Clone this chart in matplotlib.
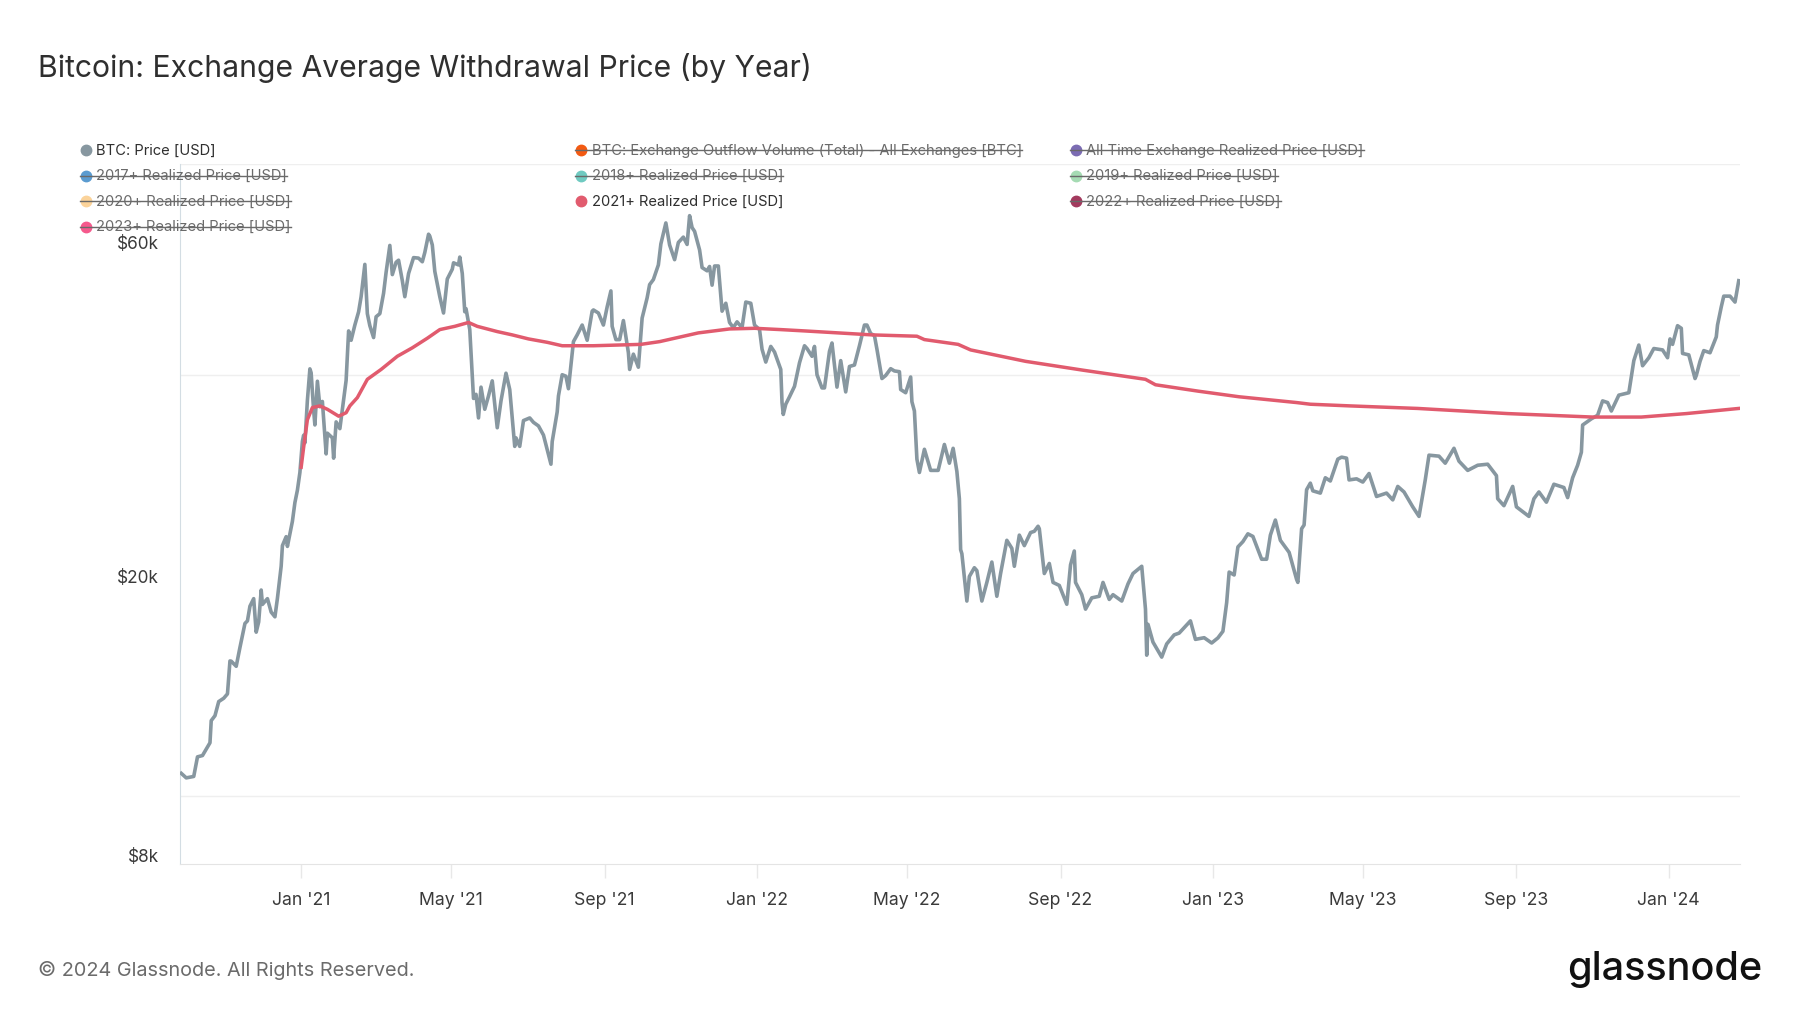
import matplotlib
matplotlib.use("Agg")
import matplotlib.pyplot as plt
import matplotlib.dates as mdates
import matplotlib.ticker as mticker
import matplotlib.transforms as mtransforms
from matplotlib.lines import Line2D
import pandas as pd

plt.rcParams['font.family'] = ['Inter', 'DejaVu Sans']

title = "Bitcoin: Exchange Average Withdrawal Price (by Year)"
footer = "\u00a9 2024 Glassnode. All Rights Reserved."

# BTC daily close (date, USD)
btc_price = [
    ("2020-09-27", 10780), ("2020-10-01", 10620), ("2020-10-07", 10670), ("2020-10-10", 11380),
    ("2020-10-14", 11430), ("2020-10-20", 11920), ("2020-10-21", 12820), ("2020-10-24", 13030),
    ("2020-10-27", 13650), ("2020-10-31", 13800),
    ("2020-11-03", 14000), ("2020-11-05", 15600), ("2020-11-06", 15590), ("2020-11-10", 15330),
    ("2020-11-13", 16310), ("2020-11-17", 17650), ("2020-11-19", 17800), ("2020-11-21", 18680),
    ("2020-11-24", 19150), ("2020-11-26", 17150), ("2020-11-28", 17740), ("2020-11-30", 19700),
    ("2020-12-01", 18790), ("2020-12-05", 19150), ("2020-12-08", 18320), ("2020-12-11", 18040),
    ("2020-12-13", 19170), ("2020-12-16", 21310), ("2020-12-17", 22800), ("2020-12-20", 23480),
    ("2020-12-21", 22740), ("2020-12-25", 24700), ("2020-12-27", 26270), ("2020-12-29", 27360),
    ("2020-12-31", 29000),
    ("2021-01-02", 32130), ("2021-01-03", 32780), ("2021-01-04", 31970), ("2021-01-06", 36770),
    ("2021-01-08", 40780), ("2021-01-09", 40250), ("2021-01-11", 35570), ("2021-01-12", 33910),
    ("2021-01-14", 39150), ("2021-01-16", 36000), ("2021-01-18", 36630), ("2021-01-21", 30830),
    ("2021-01-22", 33000), ("2021-01-26", 32500), ("2021-01-27", 30400), ("2021-01-29", 34250),
    ("2021-02-01", 33500), ("2021-02-04", 36900), ("2021-02-06", 39260), ("2021-02-08", 46200),
    ("2021-02-10", 44800), ("2021-02-13", 47100), ("2021-02-16", 49200), ("2021-02-18", 51700),
    ("2021-02-21", 57500), ("2021-02-23", 48900), ("2021-02-25", 47000), ("2021-02-28", 45200),
    ("2021-03-02", 48400), ("2021-03-05", 48900), ("2021-03-08", 52300), ("2021-03-10", 56000),
    ("2021-03-13", 61200), ("2021-03-15", 55600), ("2021-03-18", 57900), ("2021-03-20", 58300),
    ("2021-03-23", 54500), ("2021-03-25", 51700), ("2021-03-28", 55800),
    ("2021-04-01", 58800), ("2021-04-05", 58700), ("2021-04-08", 58000), ("2021-04-10", 59800),
    ("2021-04-13", 63500), ("2021-04-14", 63100), ("2021-04-16", 61300), ("2021-04-18", 56200),
    ("2021-04-22", 51700), ("2021-04-25", 49000), ("2021-04-28", 54800),
    ("2021-05-02", 56600), ("2021-05-03", 57800), ("2021-05-07", 57400), ("2021-05-08", 58900),
    ("2021-05-10", 55800), ("2021-05-12", 49200), ("2021-05-13", 49700), ("2021-05-16", 46400),
    ("2021-05-19", 37000), ("2021-05-21", 37500), ("2021-05-23", 34700), ("2021-05-25", 38400),
    ("2021-05-28", 35700), ("2021-05-31", 37300),
    ("2021-06-03", 39200), ("2021-06-07", 33600), ("2021-06-10", 36700), ("2021-06-14", 40200),
    ("2021-06-17", 38100), ("2021-06-21", 31600), ("2021-06-22", 32500), ("2021-06-25", 31600),
    ("2021-06-28", 34400),
    ("2021-07-03", 34700), ("2021-07-06", 34200), ("2021-07-10", 33800), ("2021-07-14", 32800),
    ("2021-07-20", 29800), ("2021-07-21", 32100), ("2021-07-25", 35400), ("2021-07-26", 37300),
    ("2021-07-29", 40000),
    ("2021-08-01", 39800), ("2021-08-03", 38200), ("2021-08-07", 44600), ("2021-08-10", 45600),
    ("2021-08-14", 47100), ("2021-08-18", 44800), ("2021-08-22", 49300), ("2021-08-23", 49500),
    ("2021-08-27", 49000), ("2021-08-31", 47100),
    ("2021-09-03", 50000), ("2021-09-06", 52700), ("2021-09-07", 46900), ("2021-09-10", 44900),
    ("2021-09-13", 44900), ("2021-09-16", 47800), ("2021-09-20", 43000), ("2021-09-21", 40700),
    ("2021-09-24", 42800), ("2021-09-28", 41000),
    ("2021-10-01", 48200), ("2021-10-05", 51500), ("2021-10-07", 53800), ("2021-10-10", 54700),
    ("2021-10-14", 57400), ("2021-10-16", 61500), ("2021-10-20", 65900), ("2021-10-23", 61300),
    ("2021-10-27", 58400), ("2021-10-30", 61800),
    ("2021-11-03", 62900), ("2021-11-06", 61400), ("2021-11-08", 67500), ("2021-11-10", 64900),
    ("2021-11-12", 64100), ("2021-11-16", 60300), ("2021-11-18", 56900), ("2021-11-22", 56300),
    ("2021-11-24", 57100), ("2021-11-26", 53700), ("2021-11-28", 57200),
    ("2021-12-01", 57200), ("2021-12-04", 49300), ("2021-12-07", 50600), ("2021-12-10", 47500),
    ("2021-12-13", 46700), ("2021-12-16", 47600), ("2021-12-20", 46700), ("2021-12-23", 50800),
    ("2021-12-27", 50600), ("2021-12-30", 47100),
    ("2022-01-03", 46400), ("2022-01-05", 43500), ("2022-01-08", 41700), ("2022-01-12", 43900),
    ("2022-01-15", 43100), ("2022-01-20", 40700), ("2022-01-21", 36500), ("2022-01-22", 35100),
    ("2022-01-24", 36300), ("2022-01-27", 37200), ("2022-01-31", 38500),
    ("2022-02-04", 41600), ("2022-02-08", 44000), ("2022-02-10", 43600), ("2022-02-14", 42500),
    ("2022-02-16", 43900), ("2022-02-18", 40000), ("2022-02-22", 38300), ("2022-02-24", 38300),
    ("2022-02-28", 43200),
    ("2022-03-02", 44400), ("2022-03-06", 38400), ("2022-03-09", 41900), ("2022-03-13", 37800),
    ("2022-03-16", 41100), ("2022-03-20", 41300), ("2022-03-24", 44000), ("2022-03-28", 47100),
    ("2022-03-30", 47100),
    ("2022-04-02", 45800), ("2022-04-05", 45500), ("2022-04-07", 43500), ("2022-04-11", 39500),
    ("2022-04-14", 39900), ("2022-04-18", 40800), ("2022-04-21", 40500), ("2022-04-25", 40400),
    ("2022-04-26", 38100), ("2022-04-30", 37700),
    ("2022-05-04", 39700), ("2022-05-05", 36600), ("2022-05-07", 35500), ("2022-05-09", 30300),
    ("2022-05-11", 29000), ("2022-05-15", 31300), ("2022-05-20", 29200), ("2022-05-26", 29200),
    ("2022-05-31", 31800),
    ("2022-06-04", 29900), ("2022-06-07", 31400), ("2022-06-10", 29100), ("2022-06-12", 26600),
    ("2022-06-13", 22500), ("2022-06-14", 22200), ("2022-06-18", 19000), ("2022-06-20", 20600),
    ("2022-06-24", 21200), ("2022-06-26", 21000), ("2022-06-30", 19000),
    ("2022-07-04", 20200), ("2022-07-08", 21600), ("2022-07-12", 19300), ("2022-07-15", 20800),
    ("2022-07-20", 23200), ("2022-07-24", 22600), ("2022-07-26", 21300), ("2022-07-30", 23600),
    ("2022-08-03", 22800), ("2022-08-08", 23800), ("2022-08-11", 23900), ("2022-08-14", 24300),
    ("2022-08-15", 24100), ("2022-08-19", 20800), ("2022-08-23", 21500), ("2022-08-26", 20200),
    ("2022-08-31", 20000),
    ("2022-09-06", 18800), ("2022-09-09", 21400), ("2022-09-12", 22400), ("2022-09-13", 20200),
    ("2022-09-18", 19400), ("2022-09-21", 18500), ("2022-09-26", 19200),
    ("2022-10-02", 19300), ("2022-10-05", 20200), ("2022-10-10", 19100), ("2022-10-13", 19400),
    ("2022-10-20", 19000), ("2022-10-25", 20100), ("2022-10-29", 20800),
    ("2022-11-05", 21300), ("2022-11-08", 18500), ("2022-11-09", 15900), ("2022-11-10", 17600),
    ("2022-11-14", 16600), ("2022-11-21", 15800), ("2022-11-25", 16500),
    ("2022-12-01", 17000), ("2022-12-05", 17100), ("2022-12-14", 17800), ("2022-12-18", 16750),
    ("2022-12-25", 16840), ("2022-12-31", 16550),
    ("2023-01-05", 16830), ("2023-01-09", 17200), ("2023-01-12", 18900), ("2023-01-14", 20900),
    ("2023-01-18", 20700), ("2023-01-21", 22700), ("2023-01-25", 23100), ("2023-01-29", 23700),
    ("2023-02-02", 23500), ("2023-02-09", 21800), ("2023-02-13", 21800), ("2023-02-16", 23600),
    ("2023-02-20", 24800), ("2023-02-24", 23200),
    ("2023-03-03", 22300), ("2023-03-09", 20400), ("2023-03-10", 20200), ("2023-03-13", 24100),
    ("2023-03-15", 24400), ("2023-03-17", 27400), ("2023-03-20", 28000), ("2023-03-22", 27300),
    ("2023-03-28", 27100),
    ("2023-04-01", 28500), ("2023-04-05", 28200), ("2023-04-11", 30300), ("2023-04-14", 30500),
    ("2023-04-18", 30400), ("2023-04-20", 28300), ("2023-04-26", 28400),
    ("2023-05-01", 28100), ("2023-05-06", 28900), ("2023-05-12", 26800), ("2023-05-20", 27100),
    ("2023-05-25", 26500), ("2023-05-29", 27700),
    ("2023-06-03", 27200), ("2023-06-10", 25900), ("2023-06-15", 25100), ("2023-06-20", 28300),
    ("2023-06-23", 30700),
    ("2023-07-01", 30600), ("2023-07-06", 29900), ("2023-07-13", 31400), ("2023-07-17", 30100),
    ("2023-07-24", 29200),
    ("2023-08-01", 29700), ("2023-08-09", 29800), ("2023-08-16", 28700), ("2023-08-17", 26600),
    ("2023-08-22", 26000), ("2023-08-29", 27700),
    ("2023-09-01", 25900), ("2023-09-11", 25100), ("2023-09-15", 26600), ("2023-09-19", 27200),
    ("2023-09-25", 26300),
    ("2023-10-01", 27900), ("2023-10-09", 27600), ("2023-10-12", 26700), ("2023-10-16", 28500),
    ("2023-10-20", 29700), ("2023-10-23", 31000), ("2023-10-24", 33900), ("2023-10-31", 34600),
    ("2023-11-05", 35000), ("2023-11-09", 36700), ("2023-11-13", 36500), ("2023-11-16", 35500),
    ("2023-11-22", 37400), ("2023-11-30", 37700),
    ("2023-12-04", 41900), ("2023-12-08", 44100), ("2023-12-11", 41200), ("2023-12-16", 42300),
    ("2023-12-20", 43600), ("2023-12-27", 43400), ("2023-12-31", 42300),
    ("2024-01-02", 45000), ("2024-01-04", 44200), ("2024-01-08", 47000), ("2024-01-11", 46600),
    ("2024-01-12", 42900), ("2024-01-17", 42700), ("2024-01-22", 39500), ("2024-01-23", 39900),
    ("2024-01-26", 41800), ("2024-01-29", 43300),
    ("2024-02-03", 43000), ("2024-02-08", 45300), ("2024-02-09", 47100), ("2024-02-12", 50000),
    ("2024-02-14", 51800), ("2024-02-19", 51800), ("2024-02-23", 50800), ("2024-02-26", 54500),
]

# 2021+ realized price (date, USD)
rp_2021 = [
    ("2021-01-01", 29500), ("2021-01-03", 31500), ("2021-01-06", 34500), ("2021-01-10", 35900),
    ("2021-01-16", 36100), ("2021-01-22", 35700), ("2021-01-31", 34900), ("2021-02-06", 35300),
    ("2021-02-09", 36100), ("2021-02-15", 37100), ("2021-02-23", 39400), ("2021-03-06", 40700),
    ("2021-03-19", 42500), ("2021-03-31", 43700), ("2021-04-12", 45100), ("2021-04-22", 46400),
    ("2021-05-04", 46900), ("2021-05-15", 47500), ("2021-05-22", 46900), ("2021-06-07", 46100),
    ("2021-06-19", 45600), ("2021-07-02", 45000), ("2021-07-17", 44500), ("2021-07-29", 44000),
    ("2021-08-23", 44000), ("2021-09-30", 44200), ("2021-10-15", 44600), ("2021-11-15", 45900),
    ("2021-12-10", 46500), ("2021-12-30", 46600), ("2022-01-20", 46400), ("2022-02-08", 46200),
    ("2022-04-03", 45600), ("2022-05-09", 45400), ("2022-05-15", 44900), ("2022-06-11", 44200),
    ("2022-06-21", 43400), ("2022-08-04", 41800), ("2022-09-19", 40600), ("2022-11-08", 39400),
    ("2022-11-16", 38700), ("2022-12-20", 37900), ("2023-01-22", 37200), ("2023-03-09", 36500),
    ("2023-03-20", 36300), ("2023-04-21", 36100), ("2023-06-14", 35800), ("2023-08-25", 35200),
    ("2023-11-01", 34800), ("2023-12-10", 34800), ("2024-01-15", 35200), ("2024-02-26", 35800),
]

legend_items = [
    ("BTC: Price [USD]", "#8797a0", True),
    ("BTC: Exchange Outflow Volume (Total) - All Exchanges [BTC]", "#f35a12", False),
    ("All Time Exchange Realized Price [USD]", "#7b6cb3", False),
    ("2017+ Realized Price [USD]", "#5a9bd0", False),
    ("2018+ Realized Price [USD]", "#6fcac1", False),
    ("2019+ Realized Price [USD]", "#a5dbb3", False),
    ("2020+ Realized Price [USD]", "#fbd39a", False),
    ("2021+ Realized Price [USD]", "#e15b6e", True),
    ("2022+ Realized Price [USD]", "#a33a5e", False),
    ("2023+ Realized Price [USD]", "#f5598c", False),
]

y_labels = {8000: "$8k", 20000: "$20k", 60000: "$60k"}
grid_levels = [10000, 20000, 40000, 60000, 80000]

btc = pd.DataFrame(btc_price, columns=["date", "price"])
btc["date"] = pd.to_datetime(btc["date"])
rp = pd.DataFrame(rp_2021, columns=["date", "price"])
rp["date"] = pd.to_datetime(rp["date"])

W, H = 1800, 1013
fig = plt.figure(figsize=(18, 10.13), dpi=100)
ax = fig.add_axes([180 / W, 1 - 864 / H, (1740 - 180) / W, (864 - 164) / H])

ax.plot(btc["date"], btc["price"], color="#8797a0", lw=2.6, solid_joinstyle="round", zorder=3)
ax.plot(rp["date"], rp["price"], color="#e15b6e", lw=2.5, zorder=4)

ax.set_yscale("log")
ax.set_ylim(8000, 80000)
ax.set_xlim(pd.Timestamp("2020-09-26"), pd.Timestamp("2024-02-27"))

ax.yaxis.set_major_locator(mticker.FixedLocator(list(y_labels.keys())))
ax.yaxis.set_major_formatter(mticker.FixedFormatter(list(y_labels.values())))
ax.yaxis.set_minor_locator(mticker.FixedLocator(grid_levels))
ax.yaxis.set_minor_formatter(mticker.NullFormatter())
ax.grid(which="minor", axis="y", color="#efefef", lw=1)
ax.tick_params(axis="y", which="both", length=0, pad=15, labelsize=12.4, labelcolor="#3a3a3a")
offset = mtransforms.ScaledTranslation(0, 0.09, fig.dpi_scale_trans)
for lab in ax.yaxis.get_majorticklabels():
    lab.set_transform(lab.get_transform() + offset)

ax.xaxis.set_major_locator(mdates.MonthLocator(bymonth=[1, 5, 9]))
ax.xaxis.set_major_formatter(mdates.DateFormatter("%b '%y"))
ax.tick_params(axis="x", length=10, width=1, color="#e8e8e8", pad=10, labelsize=12.7, labelcolor="#3a3a3a")

for s in ["top", "right"]:
    ax.spines[s].set_visible(False)
ax.spines["left"].set_color("#d3dde3")
ax.spines["bottom"].set_color("#e4e4e4")

fig.text(38 / W, 1 - 67.5 / H, title, fontsize=21.7, color="#2f2f2f", va="center", ha="left")
fig.text(38 / W, 1 - 970 / H, footer, fontsize=14.3, color="#6b6b6b", va="center", ha="left")
fig.text(1762 / W, 1 - 970 / H, "glassnode", fontsize=28.5, color="#111111", va="center", ha="right",
         fontweight="medium")

# legend, three columns, struck-through entries are hidden series
renderer = fig.canvas.get_renderer()
col_x = [86, 581, 1076]
row_y = [150.5, 176, 201.5, 226.5]
for i, (name, col, on) in enumerate(legend_items):
    cx = col_x[i % 3]
    cy = row_y[i // 3]
    fig.add_artist(Line2D([cx / W], [1 - cy / H], marker="o", ms=7.5, color=col, mec=col,
                          transform=fig.transFigure))
    t = fig.text((cx + 10.5) / W, 1 - cy / H, name, fontsize=10.6,
                 color="#2f2f2f" if on else "#6a6a6a", va="center", ha="left")
    if not on:
        bb = t.get_window_extent(renderer=renderer)
        fig.add_artist(Line2D([(cx - 6) / W, bb.x1 / W], [1 - cy / H, 1 - cy / H],
                              color="#6a6a6a", lw=1, transform=fig.transFigure))

fig.savefig("out.png", dpi=100)
